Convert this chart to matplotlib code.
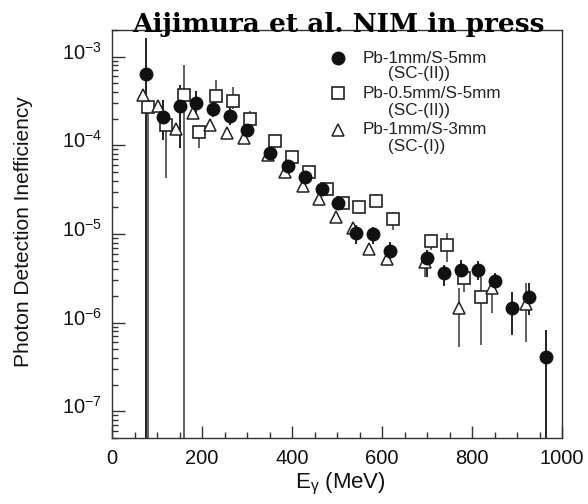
import matplotlib
matplotlib.use("Agg")
import matplotlib.pyplot as plt
import matplotlib.transforms as mtransforms
from matplotlib.ticker import LogLocator, MultipleLocator, FixedLocator, FuncFormatter, NullFormatter
import numpy as np

plt.rcParams['font.family'] = ['Liberation Sans', 'DejaVu Sans']
plt.rcParams['mathtext.default'] = 'regular'

# ---------------- data ----------------
# Pb-1mm/S-5mm (SC-(II))  -- filled circles
circ_E = [75, 113, 151, 187, 224, 262, 299, 352, 390, 429, 466, 503, 542, 579,
          618, 701, 738, 776, 813, 851, 888, 927, 964]
circ_v = [6.4e-4, 2.08e-4, 2.79e-4, 3.0e-4, 2.58e-4, 2.17e-4, 1.5e-4, 8.2e-5,
          5.9e-5, 4.37e-5, 3.2e-5, 2.26e-5, 1.03e-5, 9.9e-6, 6.4e-6, 5.3e-6,
          3.6e-6, 3.92e-6, 3.92e-6, 2.94e-6, 1.47e-6, 1.96e-6, 4.1e-7]
circ_lo = [1e-12, 1.15e-4, 9.4e-5, 2.2e-4, 2.11e-4, 1.7e-4, 1.26e-4, 6.9e-5,
           5.0e-5, 3.7e-5, 2.7e-5, 1.9e-5, 7.8e-6, 7.8e-6, 4.47e-6, 3.3e-6,
           2.58e-6, 3.0e-6, 3.0e-6, 2.3e-6, 7.2e-7, 1.22e-6, 1e-12]
circ_hi = [1.64e-3, 3.27e-4, 4.83e-4, 4.06e-4, 3.13e-4, 2.74e-4, 1.86e-4, 9.7e-5,
           7.0e-5, 5.2e-5, 3.8e-5, 2.7e-5, 1.25e-5, 1.2e-5, 8.2e-6, 6.6e-6,
           4.47e-6, 5.1e-6, 4.9e-6, 3.6e-6, 2.23e-6, 2.77e-6, 8.2e-7]

# Pb-0.5mm/S-5mm (SC-(II))  -- open squares
sq_E = [81, 120, 160, 194, 230, 268, 307, 362, 399, 438, 477, 514, 549, 587,
        624, 708, 745, 783, 820]
sq_v = [2.7e-4, 1.7e-4, 3.65e-4, 1.4e-4, 3.56e-4, 3.13e-4, 1.98e-4, 1.12e-4,
        7.3e-5, 5.06e-5, 3.2e-5, 2.22e-5, 2.0e-5, 2.36e-5, 1.47e-5, 8.3e-6,
        7.5e-6, 3.2e-6, 1.96e-6]
sq_lo = [1e-12, 4.3e-5, 1e-12, 9.3e-5, 3.0e-4, 2.6e-4, 1.7e-4, 9.5e-5, 6.2e-5,
         4.3e-5, 2.7e-5, 1.9e-5, 1.75e-5, 2.0e-5, 1.1e-5, 6.6e-6, 4.87e-6,
         2.2e-6, 5.6e-7]
sq_hi = [3.3e-4, 2.05e-4, 8.1e-4, 1.63e-4, 5.5e-4, 4.55e-4, 2.41e-4, 1.3e-4,
         8.5e-5, 5.9e-5, 3.7e-5, 2.6e-5, 2.3e-5, 2.8e-5, 1.78e-5, 9.8e-6,
         1.02e-5, 4.4e-6, 3.3e-6]

# Pb-1mm/S-3mm (SC-(I))  -- open triangles
tri_E = [68, 103, 142, 179, 218, 255, 293, 347, 384, 424, 461, 498, 535, 572,
         610, 696, 771, 845, 919]
tri_v = [3.72e-4, 2.8e-4, 1.53e-4, 2.31e-4, 1.71e-4, 1.37e-4, 1.2e-4, 7.8e-5,
         5.06e-5, 3.48e-5, 2.47e-5, 1.57e-5, 1.16e-5, 6.76e-6, 5.2e-6, 4.87e-6,
         1.45e-6, 2.43e-6, 1.62e-6]
tri_lo = [3.3e-4, 2.45e-4, 1.35e-4, 2.05e-4, 1.5e-4, 1.2e-4, 1.05e-4, 6.9e-5,
          4.5e-5, 3.1e-5, 2.2e-5, 1.4e-5, 1.02e-5, 5.9e-6, 4.4e-6, 3.3e-6,
          5.3e-7, 1.27e-6, 6.1e-7]
tri_hi = [4.2e-4, 3.2e-4, 1.75e-4, 2.6e-4, 1.95e-4, 1.55e-4, 1.36e-4, 8.8e-5,
          5.7e-5, 3.9e-5, 2.8e-5, 1.78e-5, 1.32e-5, 7.7e-6, 6.3e-6, 5.9e-6,
          2.43e-6, 3.2e-6, 2.77e-6]

legend_main = ["Pb-1mm/S-5mm", "Pb-0.5mm/S-5mm", "Pb-1mm/S-3mm"]
legend_sub = ["(SC-(II))", "(SC-(II))", "(SC-(I))"]

title = "Aijimura et al. NIM in press"
xlabel = r"E$_{\gamma}$ (MeV)"
ylabel = "Photon Detection Inefficiency"
x_ticks = [0, 200, 400, 600, 800, 1000]
y_ticks = [1e-7, 1e-6, 1e-5, 1e-4, 1e-3]

# ---------------- figure ----------------
W, H = 588, 504
fig = plt.figure(figsize=(W / 100, H / 100), dpi=100)
ax = fig.add_axes([112 / W, 1 - 438 / H, 450 / W, 408 / H])


def errs(v, lo, hi):
    v = np.asarray(v); lo = np.asarray(lo); hi = np.asarray(hi)
    return np.vstack([v - lo, hi - v])


ax.errorbar(sq_E, sq_v, yerr=errs(sq_v, sq_lo, sq_hi), fmt='none',
            ecolor='#555555', elinewidth=1.3, capsize=0, zorder=2)
ax.errorbar(tri_E, tri_v, yerr=errs(tri_v, tri_lo, tri_hi), fmt='none',
            ecolor='#555555', elinewidth=1.3, capsize=0, zorder=2)
ax.errorbar(circ_E, circ_v, yerr=errs(circ_v, circ_lo, circ_hi), fmt='none',
            ecolor='#111111', elinewidth=1.3, capsize=0, zorder=2)

ax.plot(sq_E, sq_v, ls='none', marker='s', ms=9, mfc='white', mec='#222222',
        mew=1.2, zorder=3)
ax.plot(tri_E, tri_v, ls='none', marker='^', ms=9, mfc='white', mec='#222222',
        mew=1.1, zorder=4)
ax.plot(circ_E, circ_v, ls='none', marker='o', ms=9, mfc='#111111',
        mec='#111111', zorder=5)

ax.set_yscale('log')
ax.set_xlim(0, 1000)
ax.set_ylim(5e-8, 2e-3)

ax.xaxis.set_major_locator(FixedLocator(x_ticks))
ax.xaxis.set_minor_locator(MultipleLocator(50))
ax.yaxis.set_major_locator(FixedLocator(y_ticks))
ax.yaxis.set_minor_locator(LogLocator(base=10, subs=np.arange(2, 10)))
ax.yaxis.set_minor_formatter(NullFormatter())
ax.yaxis.set_major_formatter(
    FuncFormatter(lambda v, p: r"$10^{%d}$" % int(round(np.log10(v)))))

ax.tick_params(which='both', direction='in', top=False, right=False,
               color='#333333', width=1.0, labelsize=14.5, labelcolor='#111111')
ax.tick_params(which='major', length=9)
ax.tick_params(which='minor', length=4.5)
ax.tick_params(axis='x', pad=8)
ax.tick_params(axis='y', pad=7)

for lab in ax.get_yticklabels():
    lab.set_transform(lab.get_transform() +
                      mtransforms.ScaledTranslation(0, 0.06, fig.dpi_scale_trans))

for s in ax.spines.values():
    s.set_color('#333333')
    s.set_linewidth(1.0)

# axis labels
fig.text(340 / W, 1 - 488 / H, xlabel, ha='center', va='baseline',
         fontsize=16, color='#111111')
fig.text(24 / W, 1 - 232 / H, ylabel, ha='center', va='center', rotation=90,
         fontsize=15, color='#111111')

# title (overlapping top frame)
fig.text(338.5 / W, 1 - 32 / H, title, ha='center', va='baseline',
         fontsize=19, fontweight='bold', family='DejaVu Serif', color='black')

# legend drawn in axes coordinates
mk = [dict(marker='o', ms=9, mfc='#111111', mec='#111111'),
      dict(marker='s', ms=9, mfc='white', mec='#222222', mew=1.2),
      dict(marker='^', ms=9, mfc='white', mec='#222222', mew=1.1)]
row_main = [58.3, 93.3, 130.0]
row_sub = [73.3, 110.0, 146.7]


def to_ax(px, py):
    return ((px - 112) / 450, (438 - py) / 408)


for i in range(3):
    mx, my = to_ax(338, row_main[i])
    ax.plot([mx], [my], transform=ax.transAxes, ls='none', clip_on=False, **mk[i])
    tx, ty = to_ax(363, row_main[i])
    ax.text(tx, ty, legend_main[i], transform=ax.transAxes, ha='left',
            va='center', fontsize=12.3, color='#222222')
    sx, sy = to_ax(388, row_sub[i])
    ax.text(sx, sy, legend_sub[i], transform=ax.transAxes, ha='left',
            va='center', fontsize=12.3, color='#222222')

fig.savefig('out.png', dpi=100)
